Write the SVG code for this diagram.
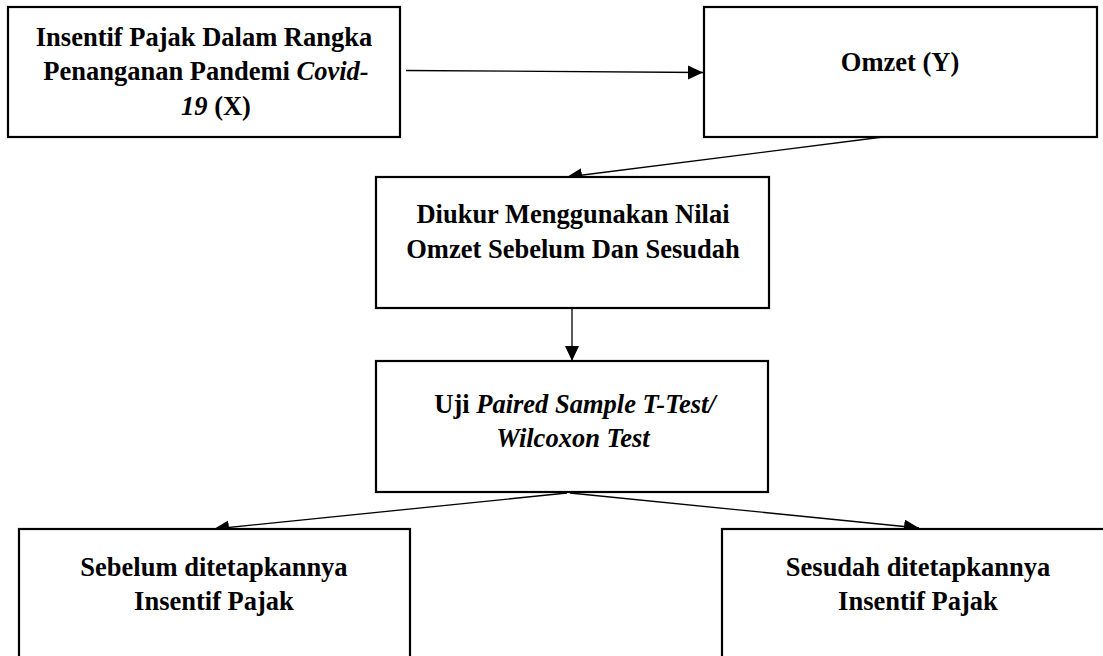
<svg xmlns="http://www.w3.org/2000/svg" width="1103" height="656" viewBox="0 0 1103 656">
<style>
.box{fill:#fff;stroke:#000;stroke-width:2.2}
.t{font-family:"Liberation Serif","Times New Roman",serif;font-weight:bold;font-size:26.5px;fill:#000;text-anchor:middle}
.i{font-style:italic}
.c{fill:none;stroke:#000;stroke-width:1.3}
</style>
<defs>
<marker id="ah" markerUnits="userSpaceOnUse" markerWidth="16" markerHeight="15" refX="15" refY="7" orient="auto">
<path d="M0,0 L15,7 L0,14 z" fill="#000"/>
</marker>
</defs>
<rect width="1103" height="656" fill="#fff"/>
<g id="connectors">
<line class="c" x1="406" y1="70.5" x2="703" y2="72.5" marker-end="url(#ah)"/>
<line class="c" x1="883" y1="137" x2="567" y2="177" marker-end="url(#ah)"/>
<line class="c" x1="572" y1="308" x2="572" y2="361" marker-end="url(#ah)"/>
<line class="c" x1="567" y1="493" x2="214" y2="529" marker-end="url(#ah)"/>
<line class="c" x1="570" y1="493" x2="919" y2="528" marker-end="url(#ah)"/>
</g>
<g id="node-x">
<rect class="box" x="8" y="7" width="392" height="130"/>
<text class="t" x="204" y="45.5">Insentif Pajak Dalam Rangka</text>
<text class="t" x="206" y="80">Penanganan Pandemi <tspan class="i">Covid-</tspan></text>
<text class="t" x="216" y="114.5"><tspan class="i">19</tspan> (X)</text>
</g>
<g id="node-y">
<rect class="box" x="704" y="7" width="393" height="130"/>
<text class="t" x="900" y="71">Omzet (Y)</text>
</g>
<g id="node-diukur">
<rect class="box" x="376" y="177" width="393" height="131"/>
<text class="t" x="573" y="223">Diukur Menggunakan Nilai</text>
<text class="t" x="573" y="257.5">Omzet Sebelum Dan Sesudah</text>
</g>
<g id="node-uji">
<rect class="box" x="376" y="361" width="392" height="131"/>
<text class="t" x="575" y="412.5">Uji <tspan class="i">Paired Sample T-Test/</tspan></text>
<text class="t i" x="573" y="446.5">Wilcoxon Test</text>
</g>
<g id="node-sebelum">
<rect class="box" x="19" y="529" width="391" height="140"/>
<text class="t" x="214" y="576">Sebelum ditetapkannya</text>
<text class="t" x="214" y="609.5">Insentif Pajak</text>
</g>
<g id="node-sesudah">
<rect class="box" x="722" y="529" width="392" height="140"/>
<text class="t" x="918" y="576">Sesudah ditetapkannya</text>
<text class="t" x="918" y="609.5">Insentif Pajak</text>
</g>
</svg>
